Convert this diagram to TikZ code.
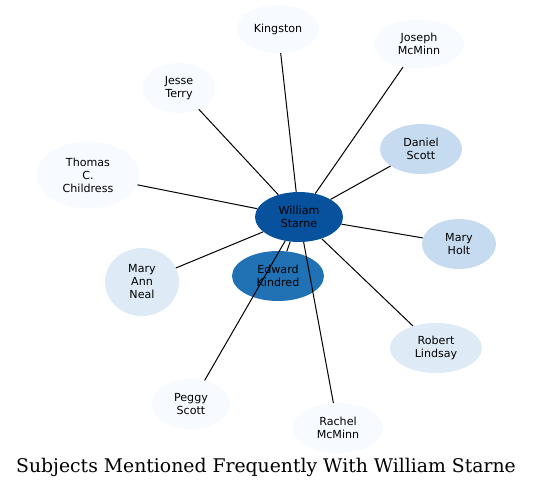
\documentclass[tikz,border=0pt]{standalone}
\usepackage{fontspec}
\setmainfont{DejaVu Serif}
\newfontfamily\namefont{DejaVu Sans}
\usetikzlibrary{shapes.geometric}
\definecolor{bluefaint}{HTML}{F7FBFF}
\definecolor{bluepale}{HTML}{DEEBF7}
\definecolor{bluelight}{HTML}{C6DBEF}
\definecolor{bluemid}{HTML}{2171B5}
\definecolor{bluedark}{HTML}{08519C}
\begin{document}
\begin{tikzpicture}[x=1pt,y=-1pt,
    person/.style={ellipse,inner sep=0pt,align=center,font=\namefont\fontsize{11.1}{13}\selectfont},
    link/.style={line width=1pt}]
    \useasboundingbox (0,0) rectangle (533,488);
    \node[person,fill=bluedark,minimum width=88,minimum height=50] (william) at (299,217) {William\\Starne};
    \node[person,fill=bluemid,minimum width=92,minimum height=50] (edward) at (278,276) {Edward\\Kindred};
    \node[person,fill=bluefaint,minimum width=82,minimum height=48] (kingston) at (278,29) {Kingston};
    \node[person,fill=bluefaint,minimum width=90,minimum height=49] (joseph) at (419,44) {Joseph\\McMinn};
    \node[person,fill=bluefaint,minimum width=73,minimum height=50] (jesse) at (179,88) {Jesse\\Terry};
    \node[person,fill=bluelight,minimum width=82,minimum height=50] (daniel) at (421,149) {Daniel\\Scott};
    \node[person,fill=bluefaint,minimum width=103,minimum height=67] (thomas) at (88,175) {Thomas\\C.\\Childress};
    \node[person,fill=bluelight,minimum width=74,minimum height=50] (maryholt) at (459,244) {Mary\\Holt};
    \node[person,fill=bluepale,minimum width=74,minimum height=68] (maryann) at (142,282) {Mary\\Ann\\Neal};
    \node[person,fill=bluepale,minimum width=92,minimum height=50] (robert) at (436,348) {Robert\\Lindsay};
    \node[person,fill=bluefaint,minimum width=78,minimum height=50] (peggy) at (191,404) {Peggy\\Scott};
    \node[person,fill=bluefaint,minimum width=90,minimum height=50] (rachel) at (338,428) {Rachel\\McMinn};
    % links from the centre
    \draw[link] (william) -- (edward);
    \draw[link] (william) -- (kingston);
    \draw[link] (william) -- (joseph);
    \draw[link] (william) -- (jesse);
    \draw[link] (william) -- (daniel);
    \draw[link] (william) -- (thomas);
    \draw[link] (william) -- (maryholt);
    \draw[link] (william) -- (maryann);
    \draw[link] (william) -- (robert);
    \draw[link] (william) -- (peggy);
    \draw[link] (william) -- (rachel);
    \node[font=\fontsize{18.8}{22}\selectfont] (title) at (266,467) {Subjects Mentioned Frequently With William Starne};
\end{tikzpicture}
\end{document}
